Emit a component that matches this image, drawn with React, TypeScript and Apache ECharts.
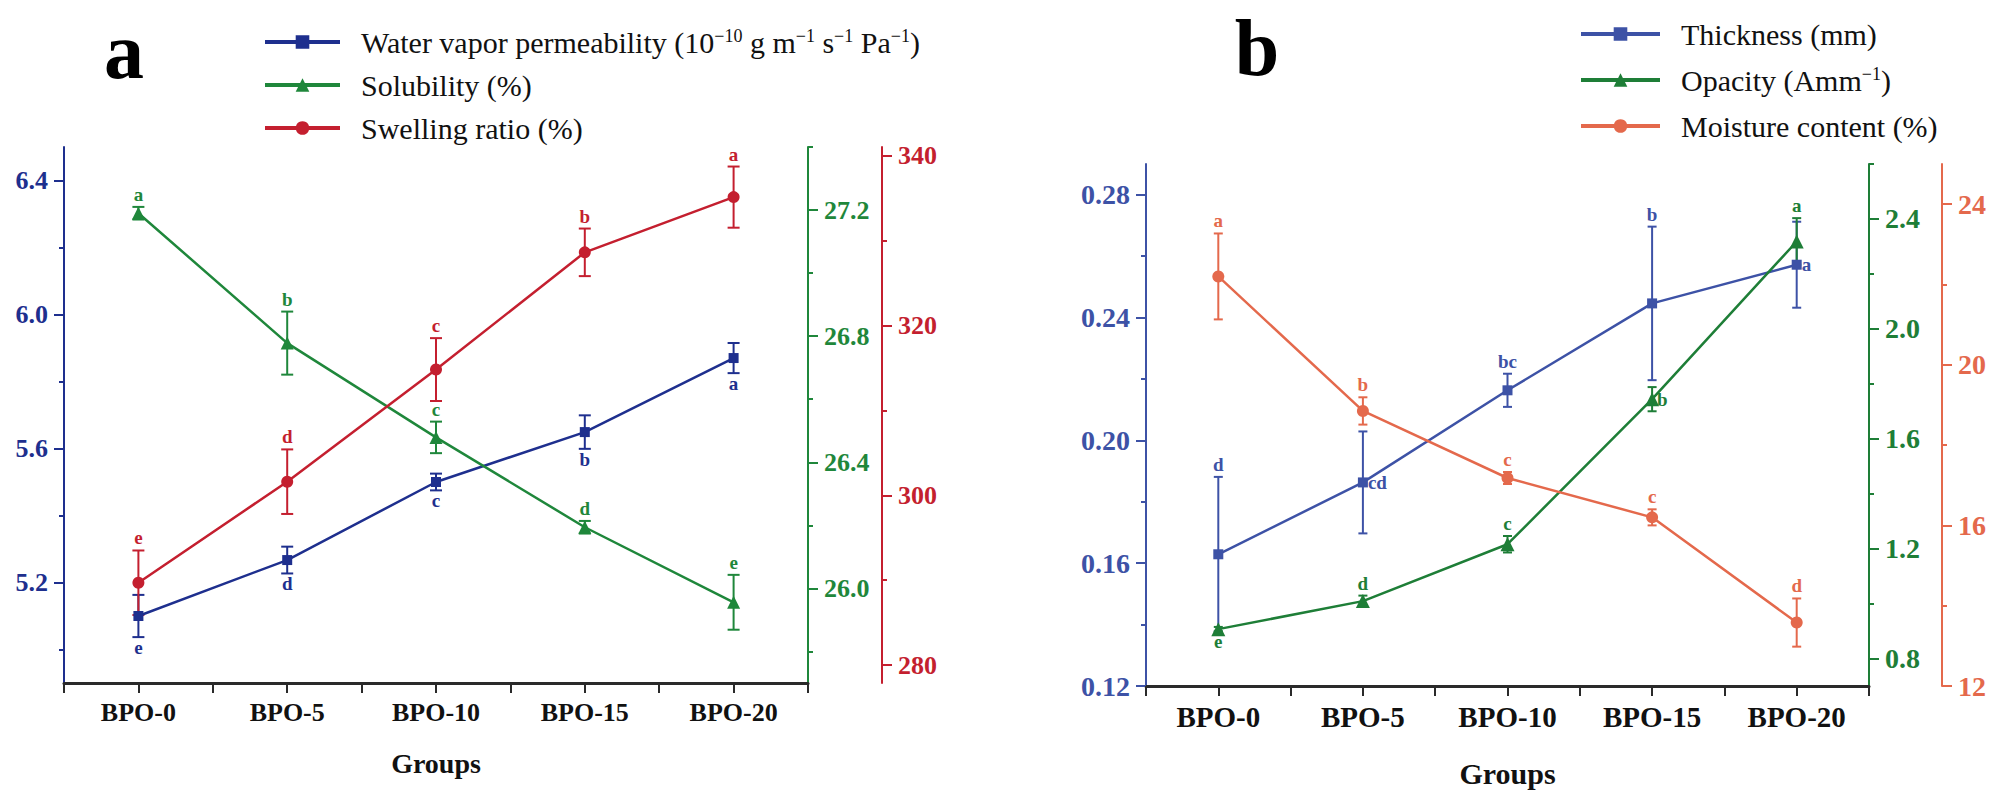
import React, { useEffect, useRef } from 'react';
import * as echarts from 'echarts';

// ---------- data ----------
const groups = ['BPO-0', 'BPO-5', 'BPO-10', 'BPO-15', 'BPO-20'];

// panel a
const wvpName = 'Water vapor permeability (10−10 g m−1 s−1 Pa−1)';
const wvp = [5.1, 5.267, 5.5, 5.649, 5.87];
const wvpErr = [0.063, 0.04, 0.025, 0.05, 0.045];
const wvpLetters = ['e', 'd', 'c', 'b', 'a'];

const solubility = [27.19, 26.778, 26.479, 26.194, 25.956];
const solubilityErr = [0.02, 0.1, 0.05, 0.02, 0.087];
const solubilityLetters = ['a', 'b', 'c', 'd', 'e'];

const swelling = [289.7, 301.6, 314.8, 328.6, 335.1];
const swellingErr = [3.8, 3.8, 3.7, 2.8, 3.6];
const swellingLetters = ['e', 'd', 'c', 'b', 'a'];

// panel b
const thickness = [0.1629, 0.1863, 0.2163, 0.2446, 0.2572];
const thicknessErr = [0.0252, 0.0166, 0.0054, 0.025, 0.014];
const thicknessLetters = ['d', 'cd', 'bc', 'b', 'a'];

const opacityName = 'Opacity (Amm−1)';
const opacity = [0.907, 1.009, 1.216, 1.744, 2.318];
const opacityErr = [0.008, 0.02, 0.03, 0.044, 0.085];
const opacityLetters = ['e', 'd', 'c', 'b', 'a'];

const moisture = [22.2, 18.85, 17.18, 16.2, 13.58];
const moistureErr = [1.07, 0.34, 0.15, 0.2, 0.6];
const moistureLetters = ['a', 'b', 'c', 'c', 'd'];

// tick values
const wvpTicks = [5.2, 5.6, 6.0, 6.4];
const wvpMinor = [5.0, 5.4, 5.8, 6.2];
const solTicks = [26.0, 26.4, 26.8, 27.2];
const solMinor = [25.8, 26.2, 26.6, 27.0, 27.4];
const swTicks = [280, 300, 320, 340];
const swMinor = [290, 310, 330];
const thTicks = [0.12, 0.16, 0.2, 0.24, 0.28];
const thMinor = [0.14, 0.18, 0.22, 0.26];
const opTicks = [0.8, 1.2, 1.6, 2.0, 2.4];
const opMinor = [1.0, 1.4, 1.8, 2.2, 2.6];
const moTicks = [12, 16, 20, 24];
const moMinor = [14, 18, 22];

// ---------- styling ----------
const FONT = 'Liberation Serif';
const COL = {
  aBlue: '#1E2F8E',
  aGreen: '#1F873B',
  aRed: '#C41F2F',
  bBlue: '#3D52A6',
  bGreen: '#1E7E37',
  bRed: '#E4694C',
};

function mainY(gridIndex: number, min: number, max: number, position: string, offset: number,
  color: string, ticks: number[], digits: number, fontSize: number) {
  return {
    type: 'value', gridIndex, min, max, position, offset,
    axisLine: { show: true, onZero: false, lineStyle: { color, width: 2 } },
    axisTick: { show: true, inside: false, length: 10, customValues: ticks, lineStyle: { color, width: 2 } },
    axisLabel: {
      show: true, customValues: ticks, formatter: (v: number) => Number(v).toFixed(digits),
      color, fontFamily: FONT, fontWeight: 'bold', fontSize, margin: 16,
    },
    splitLine: { show: false },
  };
}

function minorY(gridIndex: number, min: number, max: number, position: string, offset: number,
  color: string, ticks: number[]) {
  return {
    type: 'value', gridIndex, min, max, position, offset,
    axisLine: { show: false, onZero: false },
    axisTick: { show: true, inside: false, length: 5, customValues: ticks, lineStyle: { color, width: 2 } },
    axisLabel: { show: false },
    splitLine: { show: false },
  };
}

function xAxes(gridIndex: number, labelSize: number, nameSize: number, nameGap: number) {
  return [
    {
      type: 'category', gridIndex, data: groups, position: 'bottom', boundaryGap: true,
      axisLine: { show: true, onZero: false, lineStyle: { color: '#2a2a2a', width: 3 } },
      axisTick: { show: true, alignWithLabel: true, interval: 0, length: 10, lineStyle: { color: '#2a2a2a', width: 2 } },
      axisLabel: { color: '#111', fontFamily: FONT, fontWeight: 'bold', fontSize: labelSize, margin: 16, interval: 0 },
      name: 'Groups', nameLocation: 'middle', nameGap,
      nameTextStyle: { color: '#111', fontFamily: FONT, fontWeight: 'bold', fontSize: nameSize },
    },
    {
      type: 'category', gridIndex, data: groups, position: 'bottom', boundaryGap: true,
      axisLine: { show: false, onZero: false },
      axisTick: { show: true, alignWithLabel: false, interval: 0, length: 10, lineStyle: { color: '#2a2a2a', width: 2 } },
      axisLabel: { show: false },
    },
  ];
}

function lineSeries(name: string, xAxisIndex: number, yAxisIndex: number, values: number[],
  color: string, symbol: string, symbolSize: number) {
  return {
    type: 'line', name, xAxisIndex, yAxisIndex, data: values,
    symbol, symbolSize, showAllSymbol: true,
    lineStyle: { color, width: 2.5 },
    itemStyle: { color },
    z: 4,
  };
}

function errSeries(key: string, xAxisIndex: number, yAxisIndex: number, values: number[], errs: number[],
  letters: string[], places: string[], color: string, cap: number) {
  return {
    type: 'custom', name: key, xAxisIndex, yAxisIndex,
    data: values.map((v, i) => [i, v, errs[i]]),
    encode: { x: 0, y: 1 },
    silent: true,
    z: 3,
    renderItem: (params: any, api: any) => {
      const i = api.value(0);
      const v = api.value(1);
      const e = api.value(2);
      const top = api.coord([i, v + e]);
      const bot = api.coord([i, v - e]);
      const mid = api.coord([i, v]);
      const place = places[params.dataIndex];
      let tx = top[0], ty = top[1] - 3, align = 'center', vAlign = 'bottom';
      if (place === 'bottom') { tx = bot[0]; ty = bot[1] + 1; vAlign = 'top'; }
      if (place === 'right') { tx = mid[0] + 5; ty = mid[1]; align = 'left'; vAlign = 'middle'; }
      const ls = { stroke: color, lineWidth: 2 };
      return {
        type: 'group',
        children: [
          { type: 'line', shape: { x1: top[0], y1: top[1], x2: bot[0], y2: bot[1] }, style: ls },
          { type: 'line', shape: { x1: top[0] - cap, y1: top[1], x2: top[0] + cap, y2: top[1] }, style: ls },
          { type: 'line', shape: { x1: bot[0] - cap, y1: bot[1], x2: bot[0] + cap, y2: bot[1] }, style: ls },
          {
            type: 'text',
            style: {
              text: letters[params.dataIndex], x: tx, y: ty, fill: color,
              fontFamily: FONT, fontWeight: 'bold', fontSize: 19,
              align, verticalAlign: vAlign,
            },
          },
        ],
      };
    },
  };
}

const richText = {
  g: { width: 16 },
  n: { fontSize: 30, fontFamily: FONT, lineHeight: 30, color: '#111' },
  s: { fontSize: 18, fontFamily: FONT, verticalAlign: 'top', color: '#111' },
};

function legendFormatter(name: string) {
  if (name === wvpName) {
    return '{g| }{n|Water vapor permeability (10}{s|−10}{n| g m}{s|−1}{n| s}{s|−1}{n| Pa}{s|−1}{n|)}';
  }
  if (name === opacityName) {
    return '{g| }{n|Opacity (Amm}{s|−1}{n|)}';
  }
  return `{g| }{n|${name}}`;
}

function buildOption() {
  const capA = 6;
  const capB = 4.5;
  return {
    animation: false,
    backgroundColor: '#ffffff',
    grid: [
      { left: 64, top: 147, width: 744, height: 536, containLabel: false },
      { left: 1146, top: 164, width: 723, height: 522, containLabel: false },
    ],
    xAxis: [...xAxes(0, 26, 28, 66), ...xAxes(1, 29, 30, 72)],
    yAxis: [
      // panel a
      mainY(0, 4.9, 6.5, 'left', 0, COL.aBlue, wvpTicks, 1, 26),
      minorY(0, 4.9, 6.5, 'left', 0, COL.aBlue, wvpMinor),
      mainY(0, 25.7, 27.4, 'right', 0, COL.aGreen, solTicks, 1, 26),
      minorY(0, 25.7, 27.4, 'right', 0, COL.aGreen, solMinor),
      mainY(0, 277.9, 341, 'right', 74, COL.aRed, swTicks, 0, 26),
      minorY(0, 277.9, 341, 'right', 74, COL.aRed, swMinor),
      // panel b
      mainY(1, 0.12, 0.29, 'left', 0, COL.bBlue, thTicks, 2, 28),
      minorY(1, 0.12, 0.29, 'left', 0, COL.bBlue, thMinor),
      mainY(1, 0.7, 2.6, 'right', 0, COL.bGreen, opTicks, 1, 28),
      minorY(1, 0.7, 2.6, 'right', 0, COL.bGreen, opMinor),
      mainY(1, 12, 25, 'right', 73, COL.bRed, moTicks, 0, 28),
      minorY(1, 12, 25, 'right', 73, COL.bRed, moMinor),
    ],
    legend: [
      {
        data: [wvpName, 'Solubility (%)', 'Swelling ratio (%)'],
        orient: 'vertical', left: 263, top: 27, padding: 0,
        itemWidth: 75, itemHeight: 17, itemGap: 13,
        selectedMode: false,
        lineStyle: { width: 4 },
        textStyle: { fontFamily: FONT, fontSize: 30, color: '#111', rich: richText },
        formatter: legendFormatter,
      },
      {
        data: ['Thickness (mm)', opacityName, 'Moisture content (%)'],
        orient: 'vertical', left: 1579, top: 19, padding: 0,
        itemWidth: 79, itemHeight: 17, itemGap: 16,
        selectedMode: false,
        lineStyle: { width: 4 },
        textStyle: { fontFamily: FONT, fontSize: 30, color: '#111', rich: richText },
        formatter: legendFormatter,
      },
    ],
    graphic: [
      {
        type: 'text', x: 124, y: 51,
        style: {
          text: 'a', fill: '#000', font: `bold 80px ${FONT}`,
          align: 'center', verticalAlign: 'middle', textAlign: 'center', textVerticalAlign: 'middle',
        },
      },
      {
        type: 'text', x: 1257, y: 48,
        style: {
          text: 'b', fill: '#000', font: `bold 80px ${FONT}`,
          align: 'center', verticalAlign: 'middle', textAlign: 'center', textVerticalAlign: 'middle',
        },
      },
    ],
    series: [
      // panel a error bars
      errSeries('wvp-err', 0, 0, wvp, wvpErr, wvpLetters, ['bottom', 'bottom', 'bottom', 'bottom', 'bottom'], COL.aBlue, capA),
      errSeries('sol-err', 0, 2, solubility, solubilityErr, solubilityLetters, ['top', 'top', 'top', 'top', 'top'], COL.aGreen, capA),
      errSeries('sw-err', 0, 4, swelling, swellingErr, swellingLetters, ['top', 'top', 'top', 'top', 'top'], COL.aRed, capA),
      // panel a lines
      lineSeries(wvpName, 0, 0, wvp, COL.aBlue, 'rect', 10),
      lineSeries('Solubility (%)', 0, 2, solubility, COL.aGreen, 'triangle', 13),
      lineSeries('Swelling ratio (%)', 0, 4, swelling, COL.aRed, 'circle', 12),
      // panel b error bars
      errSeries('th-err', 2, 6, thickness, thicknessErr, thicknessLetters, ['top', 'right', 'top', 'top', 'right'], COL.bBlue, capB),
      errSeries('op-err', 2, 8, opacity, opacityErr, opacityLetters, ['bottom', 'top', 'top', 'right', 'top'], COL.bGreen, capB),
      errSeries('mo-err', 2, 10, moisture, moistureErr, moistureLetters, ['top', 'top', 'top', 'top', 'top'], COL.bRed, capB),
      // panel b lines
      lineSeries('Thickness (mm)', 2, 6, thickness, COL.bBlue, 'rect', 10),
      lineSeries(opacityName, 2, 8, opacity, COL.bGreen, 'triangle', 14),
      lineSeries('Moisture content (%)', 2, 10, moisture, COL.bRed, 'circle', 12),
    ],
  };
}

export default function App() {
  const ref = useRef<HTMLDivElement>(null);
  useEffect(() => {
    if (!ref.current) return;
    const chart = echarts.init(ref.current, undefined, { renderer: 'svg' });
    chart.setOption(buildOption() as any);
    return () => chart.dispose();
  }, []);
  return (
    <div
      ref={ref}
      style={{ position: 'fixed', left: 0, top: 0, width: 2008, height: 808, background: '#fff' }}
    />
  );
}
